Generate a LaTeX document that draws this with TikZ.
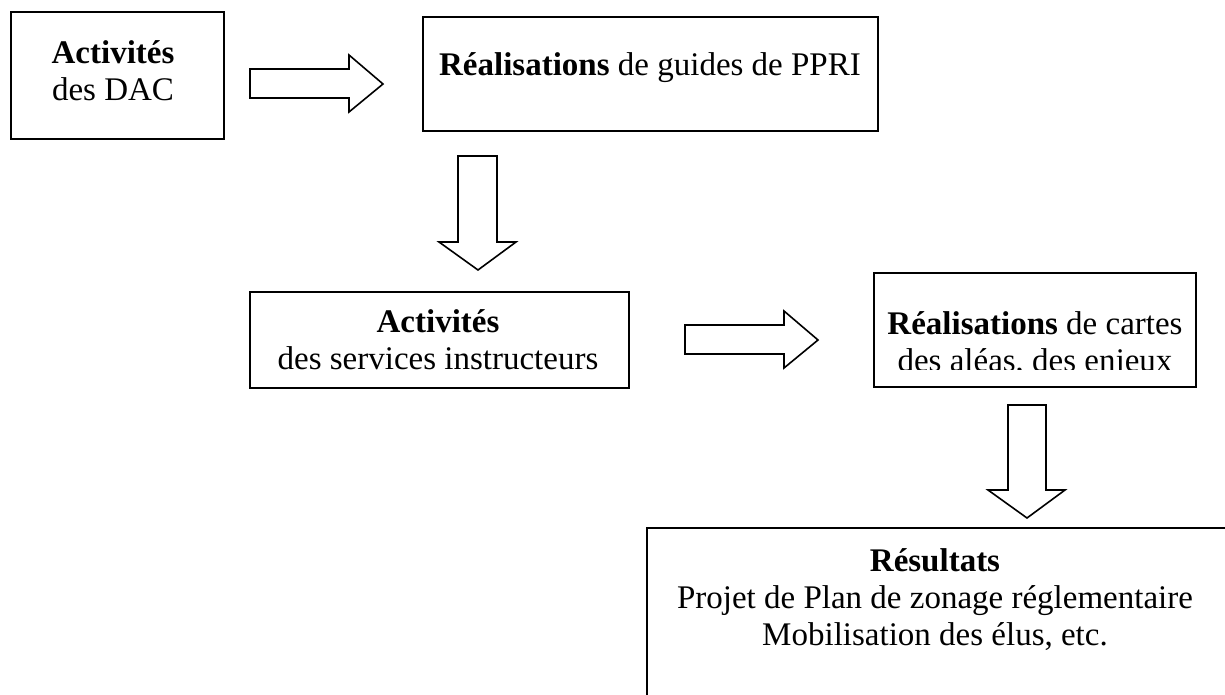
\documentclass[tikz,border=0pt]{standalone}
\usepackage{fontspec}
\setmainfont{Liberation Serif}
\usetikzlibrary{fit}
\begin{document}
\begin{tikzpicture}[x=0.5pt,y=-0.5pt,
  box/.style={draw=black, line width=1pt, rectangle, inner sep=0pt},
  blockarrow/.style={draw=black, line width=0.8pt, fill=white, line join=miter},
  label/.style={align=center, font=\fontsize{16.5}{18.5}\selectfont, inner sep=0pt}]
\useasboundingbox (0,0) rectangle (1225,695);
\clip (0,0) rectangle (1225,695);

% boxes
\node[box, fit={(11,12) (224,139)}] (dac) {};
\node[box, fit={(423,17) (878,131)}] (guides) {};
\node[box, fit={(250,292) (629,388)}] (services) {};
\node[box, fit={(874,273) (1196,387)}] (cartes) {};
\node[box, fit={(647,528) (1260,740)}] (resultats) {};

% texts
\node[label] (tdac) at (113,71) {\textbf{Activités}\\des DAC};
\node[label] (tguides) at (650,68) {\textbf{Réalisations} de guides de PPRI};
\node[label] (tservices) at (438,340) {\textbf{Activités}\\des services instructeurs};
\begin{scope}
  % the second line is cut off by the lower part of the box
  \clip (cartes.north west) rectangle (1196,369);
  \node[label] (tcartes) at (1035,345) {\textbf{Réalisations} de cartes\\des aléas, des enjeux};
\end{scope}
\node[label] (tresultats) at (935,600) {\textbf{Résultats}\\Projet de Plan de zonage réglementaire\\Mobilisation des élus, etc.};

% block arrows
\draw[blockarrow] (250,69) -- (349,69) -- (349,55) -- (383,84) -- (349,112) -- (349,98) -- (250,98) -- cycle;
\draw[blockarrow] (458,156) -- (497,156) -- (497,242) -- (516,242) -- (478,270) -- (439,242) -- (458,242) -- cycle;
\draw[blockarrow] (685,325) -- (784,325) -- (784,311) -- (818,340) -- (784,368) -- (784,354) -- (685,354) -- cycle;
\draw[blockarrow] (1008,405) -- (1046,405) -- (1046,490) -- (1065,490) -- (1027,518) -- (988,490) -- (1008,490) -- cycle;
\end{tikzpicture}
\end{document}
